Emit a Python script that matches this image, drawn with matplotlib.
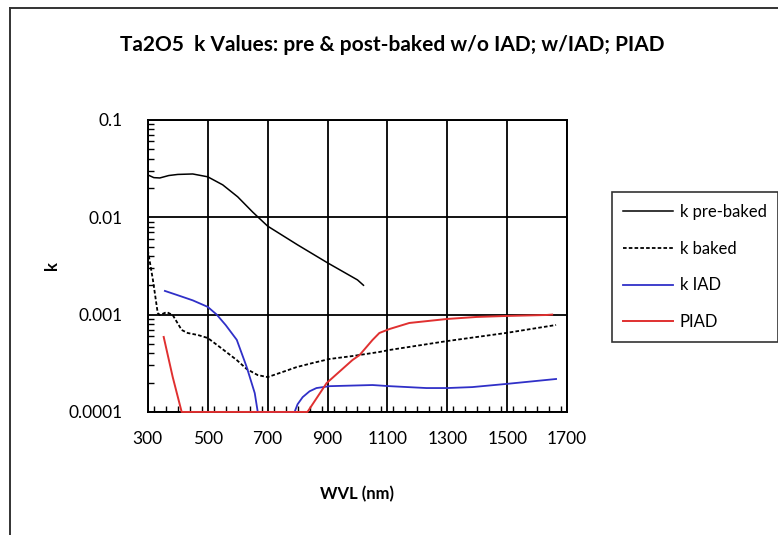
import numpy as np
from matplotlib import pyplot as plt
from matplotlib.lines import Line2D
from matplotlib.ticker import MultipleLocator, LogLocator, NullFormatter, FixedLocator

plt.rcParams['font.family'] = ['Lato', 'DejaVu Sans']

# k pre-baked
wl_pre = [300, 320, 340, 370, 400, 450, 500, 550, 600, 650, 700, 800, 900, 1000, 1020]
k_pre = [0.0272, 0.0255, 0.0253, 0.0268, 0.0275, 0.0278, 0.0260, 0.0215, 0.0162,
         0.0113, 0.0081, 0.0052, 0.0034, 0.00227, 0.0020]

# k baked (dashed)
wl_baked = [300, 317, 333, 340, 363, 383, 413, 433, 467, 500, 540, 597, 630, 667, 700,
            740, 797, 850, 907, 983, 1073, 1107, 1300, 1497, 1663]
k_baked = [0.0046, 0.00227, 0.00104, 0.00099, 0.00106, 0.00099, 0.000695, 0.000647,
           0.000617, 0.000575, 0.000465, 0.000341, 0.000276, 0.000239, 0.000228,
           0.000251, 0.000289, 0.000318, 0.00035, 0.000375, 0.000413, 0.000433,
           0.000535, 0.000648, 0.000782]

# k IAD
wl_iad = [357, 400, 450, 500, 530, 560, 597, 630, 657, 667, 790, 800, 817, 840, 863, 907,
          1050, 1107, 1230, 1300, 1383, 1497, 1663]
k_iad = [0.00175, 0.00158, 0.0014, 0.0012, 0.001, 0.00078, 0.00055, 0.00029, 0.000156,
         0.0001, 0.0001, 0.00012, 0.000142, 0.000163, 0.000176, 0.000184, 0.000189,
         0.000184, 0.000176, 0.000176, 0.00018, 0.000194, 0.000218]

# PIAD
wl_piad = [353, 383, 413, 833, 897, 983, 1007, 1050, 1073, 1107, 1173, 1300, 1397,
           1497, 1630, 1650]
k_piad = [0.000589, 0.000229, 0.0001, 0.0001, 0.000198, 0.000341, 0.000384, 0.000548,
          0.000647, 0.000711, 0.00082, 0.000902, 0.000945, 0.000968, 0.00099, 0.001]

xticks = [300, 500, 700, 900, 1100, 1300, 1500, 1700]
yticks = [0.0001, 0.001, 0.01, 0.1]
ylabels = ['0.0001', '0.001', '0.01', '0.1']

fig = plt.figure(figsize=(7.78, 5.35), dpi=100)
ax = fig.add_axes([0.190, 0.230, 0.539, 0.546])

ax.plot(wl_pre, k_pre, color='black', lw=1.1, label='k pre-baked')
ax.plot(wl_baked, k_baked, color='black', lw=1.3, ls=(0, (2, 1.2)), label='k baked')
ax.plot(wl_iad, k_iad, color='#3030c8', lw=1.3, label='k IAD', zorder=3, clip_on=False)
ax.plot(wl_piad, k_piad, color='#e03030', lw=1.4, label='PIAD', zorder=3, clip_on=False)

ax.set_yscale('log')
ax.set_xlim(300, 1700)
ax.set_ylim(0.0001, 0.1)
ax.xaxis.set_major_locator(FixedLocator(xticks))
ax.set_xticklabels([str(t) for t in xticks])
ax.xaxis.set_minor_locator(MultipleLocator(40))
ax.yaxis.set_major_locator(FixedLocator(yticks))
ax.set_yticklabels(ylabels)
ax.yaxis.set_minor_locator(LogLocator(base=10, subs=np.arange(2, 10)))
ax.yaxis.set_minor_formatter(NullFormatter())
ax.tick_params(which='both', direction='in', color='black')
ax.tick_params(which='major', length=0, labelsize=12.5)
ax.tick_params(axis='x', which='major', pad=14)
ax.tick_params(axis='y', which='major', pad=18)
ax.tick_params(which='minor', length=4, width=1)
ax.grid(True, which='major', color='black', lw=1.3)
for s in ax.spines.values():
    s.set_linewidth(1.4)
    s.set_color('black')

ax.set_xlabel('WVL (nm)', fontsize=12, fontweight='bold', labelpad=28)
ax.set_ylabel('k', fontsize=12, fontweight='bold', labelpad=6)

fig.text(0.504, 0.915, 'Ta2O5  k Values: pre & post-baked w/o IAD; w/IAD; PIAD',
         ha='center', va='center', fontsize=15, fontweight='bold')

leg = fig.legend(loc='upper left', bbox_to_anchor=(0.786, 0.641), fontsize=12,
                 frameon=True, fancybox=False, edgecolor='black', handlelength=3,
                 handletextpad=0.4, labelspacing=1.25, borderpad=0.7, borderaxespad=0)
leg.get_frame().set_linewidth(1.2)

fig.add_artist(Line2D([0.013, 0.013], [0.0, 0.985], color='#333333', lw=1.4,
                      transform=fig.transFigure))
fig.add_artist(Line2D([0.013, 1.0], [0.985, 0.985], color='#333333', lw=1.4,
                      transform=fig.transFigure))

fig.savefig('out.png', dpi=100)
